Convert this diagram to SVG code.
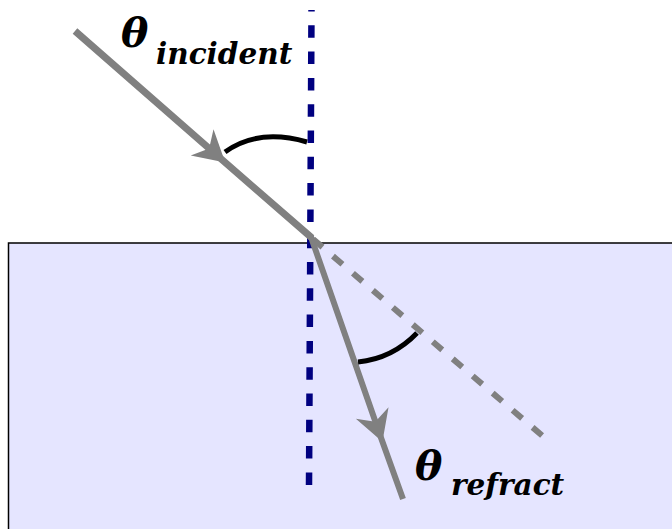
<svg xmlns="http://www.w3.org/2000/svg" width="672" height="529" viewBox="0 0 672 529">
  <style>
    .medium { fill: #e5e5ff; stroke: #000000; stroke-width: 1.5; }
    .normal { fill: none; stroke: #000080; stroke-width: 6.5; stroke-dasharray: 12.5 13.8; }
    .ray { fill: none; stroke: #808080; }
    .ext { fill: none; stroke: #808080; stroke-width: 6; stroke-dasharray: 12.5 13.8; }
    .arc { fill: none; stroke: #000000; stroke-width: 5; }
    .theta { font-family: "DejaVu Serif", "Liberation Serif", serif; font-weight: bold; font-style: italic; fill: #000000; }
  </style>
  <defs>
    <marker id="head" markerUnits="userSpaceOnUse" orient="auto" markerWidth="40" markerHeight="40" viewBox="-25 -15 30 30" refX="0" refY="0" overflow="visible">
      <path d="M3,0 L-20,-13 L-13,0 L-20,13 Z" fill="#808080"/>
    </marker>
  </defs>
  <g id="medium">
    <rect class="medium" x="8.5" y="243" width="700" height="320"/>
  </g>
  <g id="connectors">
    <line id="normal" class="normal" x1="311.5" y1="10" x2="309" y2="487" stroke-dashoffset="11"/>
    <path id="incident-ray" class="ray" stroke-width="7" d="M75,31 L222.2,159.9 L312,238" marker-mid="url(#head)"/>
    <path id="extension" class="ext" d="M313,239 L545,438"/>
    <path id="refracted-ray" class="ray" stroke-width="6" d="M311,237 L381.1,438.1 L403,499" marker-mid="url(#head)"/>
    <path id="arc-incident" class="arc" d="M225,152 Q258,128 307,142"/>
    <path id="arc-refract" class="arc" d="M358,362 Q392.5,358.5 417,333"/>
  </g>
  <g id="label-incident">
    <text class="theta" x="121" y="47" font-size="41">θ</text>
    <text class="theta" x="156" y="64" font-size="29.5">incident</text>
  </g>
  <g id="label-refract">
    <text class="theta" x="415" y="480" font-size="41">θ</text>
    <text class="theta" x="451" y="495" font-size="29.5">refract</text>
  </g>
</svg>
